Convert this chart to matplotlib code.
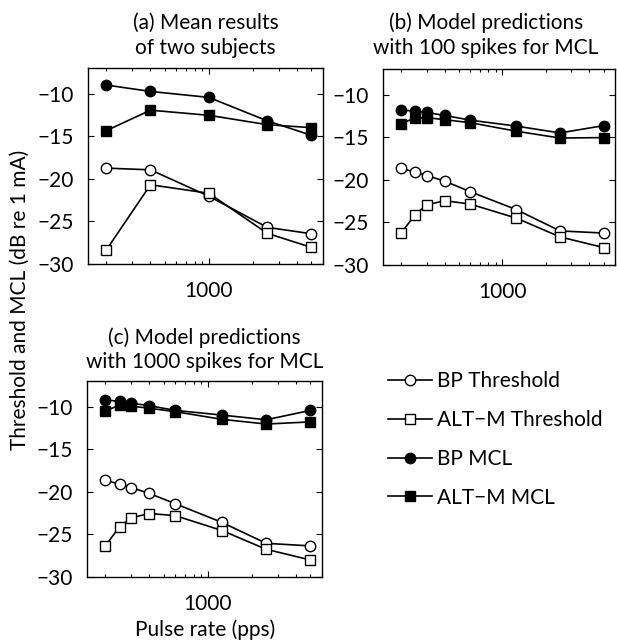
import matplotlib
matplotlib.use('Agg')
import matplotlib.pyplot as plt
from matplotlib.ticker import FixedLocator, FixedFormatter, LogLocator, NullFormatter

# pulse rates (pps)
rates_subj = [200, 400, 1000, 2500, 5000]
rates_model = [200, 250, 300, 400, 600, 1250, 2500, 5000]

# (a) mean results of two subjects
a_bp_thr = [-18.75, -18.95, -22.05, -25.7, -26.45]
a_alt_thr = [-28.35, -20.7, -21.7, -26.4, -28.05]
a_bp_mcl = [-9.0, -9.75, -10.45, -13.2, -14.9]
a_alt_mcl = [-14.35, -11.95, -12.55, -13.65, -14.0]

# (b) model, 100 spikes for MCL
b_bp_thr = [-18.65, -19.1, -19.5, -20.15, -21.4, -23.5, -26.0, -26.25]
b_alt_thr = [-26.25, -24.1, -22.95, -22.45, -22.85, -24.5, -26.7, -27.95]
b_bp_mcl = [-11.8, -11.95, -12.1, -12.45, -13.0, -13.7, -14.5, -13.65]
b_alt_mcl = [-13.4, -12.75, -12.7, -12.95, -13.3, -14.3, -15.1, -15.05]

# (c) model, 1000 spikes for MCL
c_bp_thr = [-18.65, -19.1, -19.5, -20.2, -21.4, -23.6, -26.05, -26.35]
c_alt_thr = [-26.35, -24.1, -23.05, -22.55, -22.8, -24.55, -26.75, -28.0]
c_bp_mcl = [-9.2, -9.4, -9.6, -9.9, -10.45, -11.0, -11.55, -10.45]
c_alt_mcl = [-10.5, -9.85, -9.95, -10.2, -10.6, -11.5, -12.05, -11.8]

labels = ['BP Threshold', 'ALT\u2212M Threshold', 'BP MCL', 'ALT\u2212M MCL']

plt.rcParams['font.family'] = ['Lato', 'DejaVu Sans']
plt.rcParams['font.size'] = 15


def tracer(ax, x, bp_thr, alt_thr, bp_mcl, alt_mcl):
    lw = 1.2
    h1, = ax.plot(x, bp_thr, '-o', color='k', mfc='white', mec='k', ms=7.5, lw=lw, mew=1.0)
    h2, = ax.plot(x, alt_thr, '-s', color='k', mfc='white', mec='k', ms=6.5, lw=lw, mew=1.0)
    h3, = ax.plot(x, bp_mcl, '-o', color='k', mfc='k', mec='k', ms=7.5, lw=lw)
    h4, = ax.plot(x, alt_mcl, '-s', color='k', mfc='k', mec='k', ms=6.5, lw=lw)
    ax.set_xscale('log')
    ax.set_xlim(150, 6000)
    ax.set_ylim(-30, -7)
    ax.set_yticks([-30, -25, -20, -15, -10])
    ax.set_yticklabels(['\u221230', '\u221225', '\u221220', '\u221215', '\u221210'])
    ax.xaxis.set_major_locator(FixedLocator([1000]))
    ax.xaxis.set_major_formatter(FixedFormatter(['1000']))
    ax.xaxis.set_minor_locator(LogLocator(base=10, subs=range(2, 10)))
    ax.xaxis.set_minor_formatter(NullFormatter())
    ax.tick_params(which='both', direction='in', top=True, right=True, width=0.8)
    ax.tick_params(which='major', length=4, labelsize=15)
    ax.tick_params(axis='x', which='major', pad=12)
    ax.tick_params(axis='y', which='major', pad=10)
    ax.tick_params(which='minor', length=2.5)
    for s in ax.spines.values():
        s.set_linewidth(1.0)
    return [h1, h2, h3, h4]


fig = plt.figure(figsize=(6.17, 6.4), dpi=100)
ax_a = fig.add_axes([88 / 617, 1 - 264 / 640, 235 / 617, 196 / 640])
ax_b = fig.add_axes([383 / 617, 1 - 265 / 640, 232 / 617, 196 / 640])
ax_c = fig.add_axes([87 / 617, 1 - 577 / 640, 235 / 617, 196 / 640])

handles = tracer(ax_a, rates_subj, a_bp_thr, a_alt_thr, a_bp_mcl, a_alt_mcl)
tracer(ax_b, rates_model, b_bp_thr, b_alt_thr, b_bp_mcl, b_alt_mcl)
tracer(ax_c, rates_model, c_bp_thr, c_alt_thr, c_bp_mcl, c_alt_mcl)

ax_a.set_title('(a) Mean results\nof two subjects', fontsize=15, pad=10, linespacing=1.3)
ax_c.set_title('(c) Model predictions\nwith 1000 spikes for MCL', fontsize=15, pad=9, linespacing=1.3)
fig.text(486 / 617, 1 - 58 / 640, '(b) Model predictions\nwith 100 spikes for MCL', fontsize=15,
         ha='center', va='bottom', linespacing=1.3)

fig.text(20 / 617, 1 - 300 / 640, 'Threshold and MCL (dB re 1 mA)', rotation=90,
         ha='center', va='center', fontsize=15)
fig.text(205 / 617, 1 - 630 / 640, 'Pulse rate (pps)', ha='center', va='center', fontsize=15)

fig.legend(handles, labels, loc='upper left', bbox_to_anchor=(378 / 617, 1 - 361 / 640),
           frameon=False, handlelength=2.1, handletextpad=0.25, labelspacing=0.9,
           fontsize=15, borderpad=0)

fig.savefig('out.png', dpi=100)
